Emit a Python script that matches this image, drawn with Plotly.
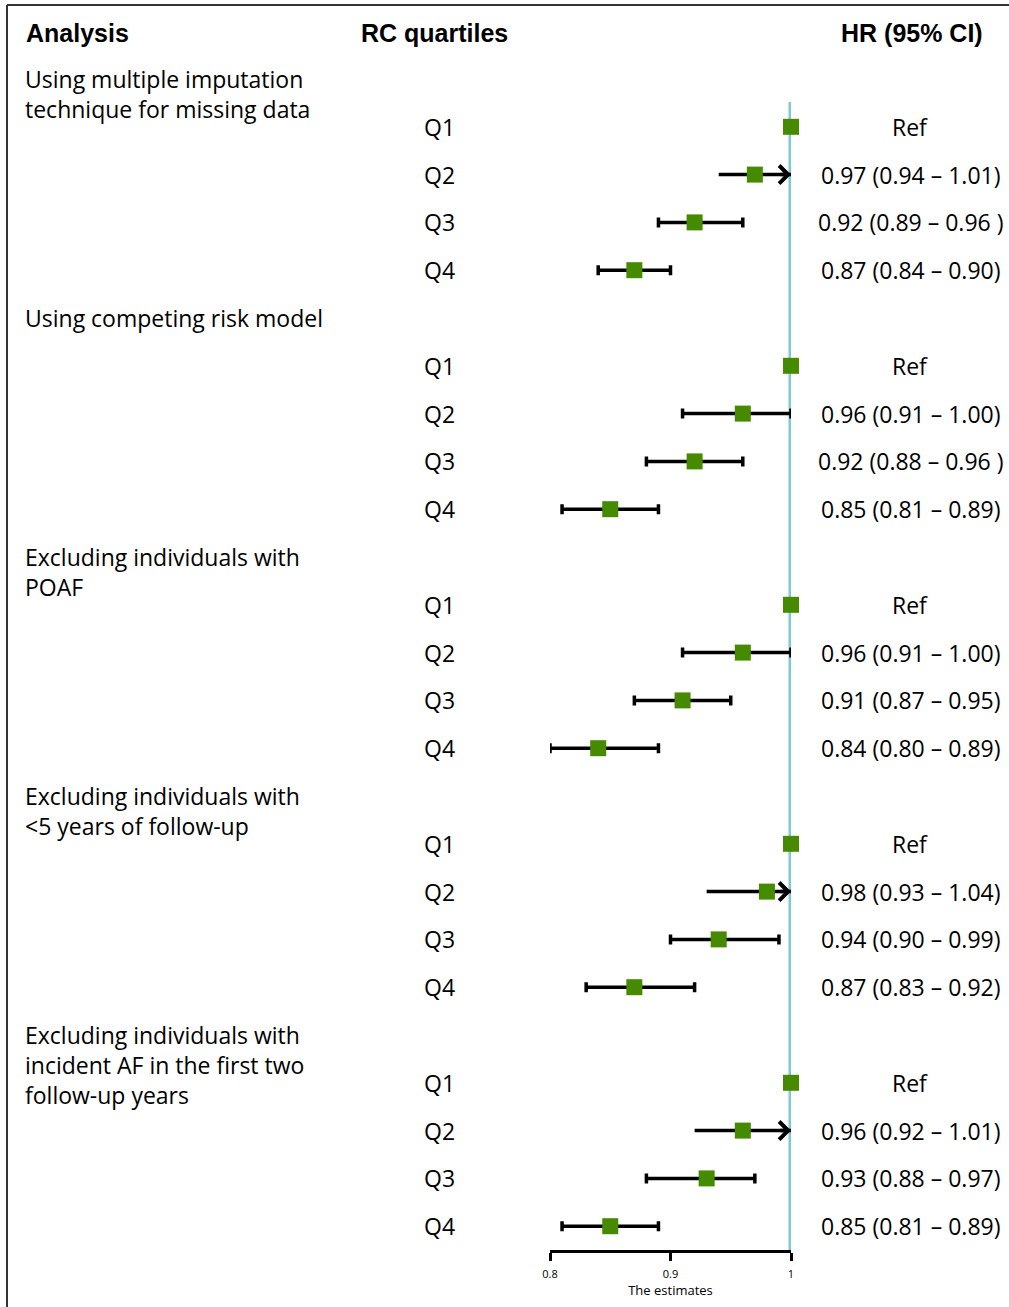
import plotly.graph_objects as go

# ---------------- data ----------------
analyses = [
    "Using multiple imputation<br>technique for missing data",
    "Using competing risk model",
    "Excluding individuals with<br>POAF",
    "Excluding individuals with<br><5 years of follow-up",
    "Excluding individuals with<br>incident AF in the first two<br>follow-up years",
]
quartiles = ["Q1", "Q2", "Q3", "Q4"]
hr = [
    [1.00, 0.97, 0.92, 0.87],
    [1.00, 0.96, 0.92, 0.85],
    [1.00, 0.96, 0.91, 0.84],
    [1.00, 0.98, 0.94, 0.87],
    [1.00, 0.96, 0.93, 0.85],
]
ci_lower = [
    [None, 0.94, 0.89, 0.84],
    [None, 0.91, 0.88, 0.81],
    [None, 0.91, 0.87, 0.80],
    [None, 0.93, 0.90, 0.83],
    [None, 0.92, 0.88, 0.81],
]
ci_upper = [
    [None, 1.01, 0.96, 0.90],
    [None, 1.00, 0.96, 0.89],
    [None, 1.00, 0.95, 0.89],
    [None, 1.04, 0.99, 0.92],
    [None, 1.01, 0.97, 0.89],
]
hr_labels = [
    ["Ref", "0.97 (0.94 – 1.01)", "0.92 (0.89 – 0.96 )", "0.87 (0.84 – 0.90)"],
    ["Ref", "0.96 (0.91 – 1.00)", "0.92 (0.88 – 0.96 )", "0.85 (0.81 – 0.89)"],
    ["Ref", "0.96 (0.91 – 1.00)", "0.91 (0.87 – 0.95)", "0.84 (0.80 – 0.89)"],
    ["Ref", "0.98 (0.93 – 1.04)", "0.94 (0.90 – 0.99)", "0.87 (0.83 – 0.92)"],
    ["Ref", "0.96 (0.92 – 1.01)", "0.93 (0.88 – 0.97)", "0.85 (0.81 – 0.89)"],
]
x_ticks = [0.8, 0.9, 1.0]
x_ticklabels = ["0.8", "0.9", "1"]
x_title = "The estimates"
headers = ["Analysis", "RC quartiles", "HR (95% CI)"]
null_value = 1.0

# ---------------- layout geometry ----------------
W, H = 1009, 1307
X_MIN, X_MAX = 0.8, 1.0
PL, PR = 550, 791          # pixel extent of the x axis
PT, PB = 5, 1250           # pixel extent of plot area
ROW0_PX, ROW_PX = 79, 47.8  # pixel y of row 0 and row pitch
y_top = (PT - ROW0_PX) / ROW_PX
y_bot = (PB - ROW0_PX) / ROW_PX


def px2paper_x(px):
    return (px - PL) / (PR - PL)


def px2paper_y(py):
    return (PB - py) / (PB - PT)


GREEN = "#468A00"
CYAN = "#7FC9D3"
BODY_FONT = "Open Sans"
BOLD_FONT = "Liberation Sans"
BODY_SIZE = 23

fig = go.Figure()

# error bars (capped) for rows whose CI lies within the axis
eb_x, eb_y, eb_plus, eb_minus = [], [], [], []
arrow_rows = []
for g in range(len(analyses)):
    for q in range(len(quartiles)):
        row = 5 * g + 1 + q
        lo, up = ci_lower[g][q], ci_upper[g][q]
        if lo is None:
            continue
        if up > X_MAX:
            arrow_rows.append((row, lo, hr[g][q]))
        else:
            eb_x.append(hr[g][q])
            eb_y.append(row)
            eb_plus.append(up - hr[g][q])
            eb_minus.append(hr[g][q] - lo)

fig.add_trace(go.Scatter(
    x=eb_x, y=eb_y, mode="markers",
    marker=dict(size=1, color="rgba(0,0,0,0)"),
    error_x=dict(type="data", symmetric=False, array=eb_plus, arrayminus=eb_minus,
                 color="black", thickness=3.5, width=5),
    cliponaxis=False, hoverinfo="skip", showlegend=False,
))

# truncated CIs: shaft to the axis limit plus an arrowhead
for row, lo, _ in arrow_rows:
    fig.add_trace(go.Scatter(
        x=[lo, X_MAX], y=[row, row], mode="lines",
        line=dict(color="black", width=3.5),
        cliponaxis=False, hoverinfo="skip", showlegend=False,
    ))
    fig.add_annotation(
        x=X_MAX, y=row, xref="x", yref="y", ax=-12, ay=0,
        showarrow=True, arrowhead=4, arrowsize=1, arrowwidth=3.5,
        arrowcolor="black", text="",
    )

# point estimates
pt_x, pt_y = [], []
for g in range(len(analyses)):
    for q in range(len(quartiles)):
        pt_x.append(hr[g][q])
        pt_y.append(5 * g + 1 + q)
fig.add_trace(go.Scatter(
    x=pt_x, y=pt_y, mode="markers",
    marker=dict(symbol="square", size=16, color=GREEN),
    cliponaxis=False, hoverinfo="skip", showlegend=False,
))

# reference line at HR = 1
fig.add_shape(type="line", xref="x", yref="y", x0=null_value, x1=null_value,
              y0=(102 - ROW0_PX) / ROW_PX, y1=y_bot,
              line=dict(color=CYAN, width=5), layer="below")

# figure frame (top and left edges)
fig.add_shape(type="line", xref="paper", yref="paper",
              x0=px2paper_x(7), x1=px2paper_x(W + 5), y0=px2paper_y(5), y1=px2paper_y(5),
              line=dict(color="#333333", width=2))
fig.add_shape(type="line", xref="paper", yref="paper",
              x0=px2paper_x(7), x1=px2paper_x(7), y0=px2paper_y(5), y1=px2paper_y(H + 5),
              line=dict(color="#333333", width=2))

# column headers
header_row = (33 - ROW0_PX) / ROW_PX
header_pos = [(24, "left"), (359, "left"), (985, "right")]
for txt, (px, anchor) in zip(headers, header_pos):
    fig.add_annotation(x=px2paper_x(px), y=header_row, xref="paper", yref="y",
                       text=f"<b>{txt}</b>", showarrow=False, xanchor=anchor, yanchor="middle",
                       font=dict(family=BOLD_FONT, size=25, color="black"))

# analysis headings
LINE_STEP = 30 / ROW_PX
for g, name in enumerate(analyses):
    for k, line in enumerate(name.split("<br>")):
        fig.add_annotation(x=px2paper_x(23), y=5 * g + k * LINE_STEP, xref="paper", yref="y",
                           text=line, showarrow=False, xanchor="left", yanchor="middle",
                           font=dict(family=BODY_FONT, size=BODY_SIZE, color="black"))

# quartile labels and HR labels
for g in range(len(analyses)):
    for q, qlab in enumerate(quartiles):
        row = 5 * g + 1 + q
        fig.add_annotation(x=px2paper_x(422), y=row, xref="paper", yref="y",
                           text=qlab, showarrow=False, xanchor="left", yanchor="middle",
                           font=dict(family=BODY_FONT, size=BODY_SIZE, color="black"))
        fig.add_annotation(x=px2paper_x(910), y=row, xref="paper", yref="y",
                           text=hr_labels[g][q], showarrow=False, xanchor="center", yanchor="middle",
                           font=dict(family=BODY_FONT, size=BODY_SIZE, color="black"))

fig.update_xaxes(range=[X_MIN, X_MAX], tickvals=x_ticks, ticktext=x_ticklabels,
                 ticks="outside", ticklen=8, tickwidth=3, tickcolor="black",
                 showline=True, linewidth=3, linecolor="black",
                 showgrid=False, zeroline=False, ticklabelstandoff=4,
                 tickfont=dict(family=BODY_FONT, size=11, color="black"),
                 title=dict(text=x_title, font=dict(family=BODY_FONT, size=13, color="black"),
                            standoff=1))
fig.update_yaxes(range=[y_bot, y_top], visible=False, showgrid=False, zeroline=False)

fig.update_layout(
    width=W, height=H,
    margin=dict(l=PL, r=W - PR, t=PT, b=H - PB, pad=0),
    paper_bgcolor="white", plot_bgcolor="white",
    showlegend=False,
)

fig.write_html("out.html", config={"displayModeBar": False},
               post_script="document.body.style.margin='0';document.body.style.overflow='hidden';")
